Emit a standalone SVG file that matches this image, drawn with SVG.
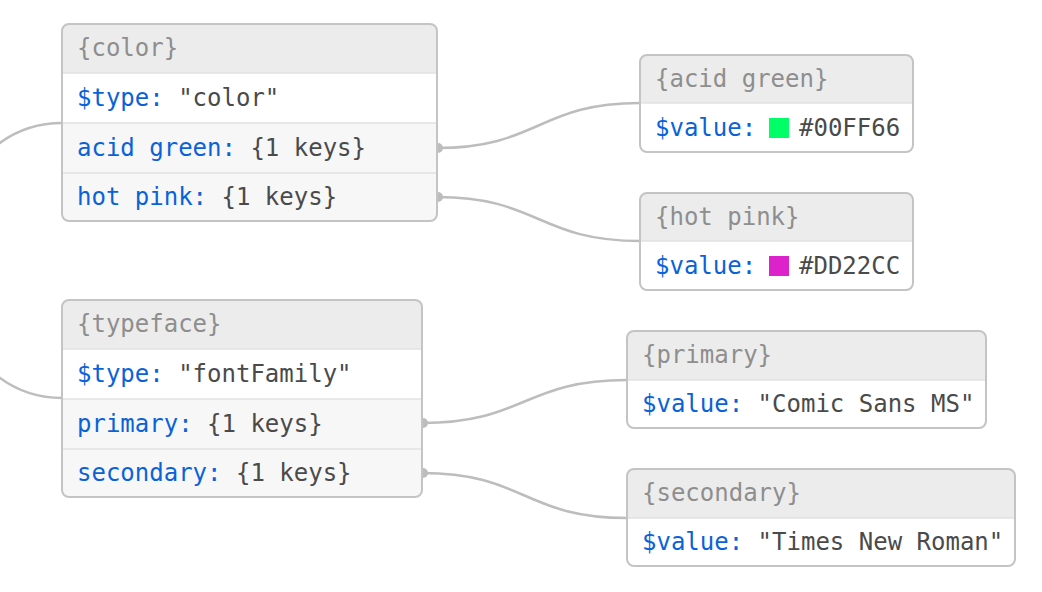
<svg xmlns="http://www.w3.org/2000/svg" width="1042" height="592" viewBox="0 0 1042 592">
<style>
.edge{fill:none;stroke:#bdbdbd;stroke-width:2.5}
.dot{fill:#bdbdbd}
.bg{fill:#f7f7f7}
.hd{fill:#ececec}
.wr{fill:#ffffff}
.sep{stroke:#e2e2e2;stroke-width:1.5}
.frame{fill:none;stroke:#c4c4c4;stroke-width:2}
text{font-family:"DejaVu Sans Mono","Liberation Mono",monospace;font-size:24px}
.h{fill:#8e8e8e}
.k{fill:#0a62d8}
.v{fill:#4a4a4a}
</style>
<rect width="1042" height="592" fill="#ffffff"/>
<g id="connectors">
<path class="edge" d="M-154,260 C-46,260 -46,123 62,123"/>
<path class="edge" d="M-154,260 C-46,260 -46,398 62,398"/>
<path class="edge" d="M437,148 C538.5,148 538.5,103 640,103"/>
<circle class="dot" cx="438" cy="148" r="5"/>
<path class="edge" d="M437,197 C538.5,197 538.5,241 640,241"/>
<circle class="dot" cx="438" cy="197" r="5"/>
<path class="edge" d="M422,423 C524.5,423 524.5,380 627,380"/>
<circle class="dot" cx="423" cy="423" r="5"/>
<path class="edge" d="M422,473 C524.5,473 524.5,518 627,518"/>
<circle class="dot" cx="423" cy="473" r="5"/>
</g>
<g id="node-color">
<rect class="bg" x="62" y="24" width="375" height="197" rx="7"/>
<path class="hd" d="M62,73 V31 Q62,24 69,24 H430 Q437,24 437,31 V73 Z"/>
<rect class="wr" x="62" y="73" width="375" height="50"/>
<line class="sep" x1="62" y1="73" x2="437" y2="73"/>
<line class="sep" x1="62" y1="123" x2="437" y2="123"/>
<line class="sep" x1="62" y1="173" x2="437" y2="173"/>
<rect class="frame" x="62" y="24" width="375" height="197" rx="7"/>
<text x="77" y="56" class="h">{color}</text>
<text x="77" y="106"><tspan class="k">$type:</tspan><tspan class="v"> "color"</tspan></text>
<text x="77" y="156"><tspan class="k">acid green:</tspan><tspan class="v"> {1 keys}</tspan></text>
<text x="77" y="205"><tspan class="k">hot pink:</tspan><tspan class="v"> {1 keys}</tspan></text>
</g>
<g id="node-typeface">
<rect class="bg" x="62" y="300" width="360" height="197" rx="7"/>
<path class="hd" d="M62,349 V307 Q62,300 69,300 H415 Q422,300 422,307 V349 Z"/>
<rect class="wr" x="62" y="349" width="360" height="50"/>
<line class="sep" x1="62" y1="349" x2="422" y2="349"/>
<line class="sep" x1="62" y1="399" x2="422" y2="399"/>
<line class="sep" x1="62" y1="449" x2="422" y2="449"/>
<rect class="frame" x="62" y="300" width="360" height="197" rx="7"/>
<text x="77" y="332" class="h">{typeface}</text>
<text x="77" y="382"><tspan class="k">$type:</tspan><tspan class="v"> "fontFamily"</tspan></text>
<text x="77" y="432"><tspan class="k">primary:</tspan><tspan class="v"> {1 keys}</tspan></text>
<text x="77" y="481"><tspan class="k">secondary:</tspan><tspan class="v"> {1 keys}</tspan></text>
</g>
<g id="node-acid-green">
<rect class="wr" x="640" y="55" width="273" height="97" rx="7"/>
<path class="hd" d="M640,103 V62 Q640,55 647,55 H906 Q913,55 913,62 V103 Z"/>
<line class="sep" x1="640" y1="103" x2="913" y2="103"/>
<rect class="frame" x="640" y="55" width="273" height="97" rx="7"/>
<text x="655" y="87" class="h">{acid green}</text>
<text x="655" y="136" class="k">$value:</text>
<rect x="769" y="118" width="20" height="20" fill="#00FF66"/>
<text x="799" y="136" class="v">#00FF66</text>
</g>
<g id="node-hot-pink">
<rect class="wr" x="640" y="193" width="273" height="97" rx="7"/>
<path class="hd" d="M640,241 V200 Q640,193 647,193 H906 Q913,193 913,200 V241 Z"/>
<line class="sep" x1="640" y1="241" x2="913" y2="241"/>
<rect class="frame" x="640" y="193" width="273" height="97" rx="7"/>
<text x="655" y="225" class="h">{hot pink}</text>
<text x="655" y="274" class="k">$value:</text>
<rect x="769" y="256" width="20" height="20" fill="#DD22CC"/>
<text x="799" y="274" class="v">#DD22CC</text>
</g>
<g id="node-primary">
<rect class="wr" x="627" y="331" width="359" height="97" rx="7"/>
<path class="hd" d="M627,380 V338 Q627,331 634,331 H979 Q986,331 986,338 V380 Z"/>
<line class="sep" x1="627" y1="380" x2="986" y2="380"/>
<rect class="frame" x="627" y="331" width="359" height="97" rx="7"/>
<text x="642" y="363" class="h">{primary}</text>
<text x="642" y="412"><tspan class="k">$value:</tspan><tspan class="v"> "Comic Sans MS"</tspan></text>
</g>
<g id="node-secondary">
<rect class="wr" x="627" y="469" width="388" height="97" rx="7"/>
<path class="hd" d="M627,518 V476 Q627,469 634,469 H1008 Q1015,469 1015,476 V518 Z"/>
<line class="sep" x1="627" y1="518" x2="1015" y2="518"/>
<rect class="frame" x="627" y="469" width="388" height="97" rx="7"/>
<text x="642" y="501" class="h">{secondary}</text>
<text x="642" y="550"><tspan class="k">$value:</tspan><tspan class="v"> "Times New Roman"</tspan></text>
</g>
</svg>
